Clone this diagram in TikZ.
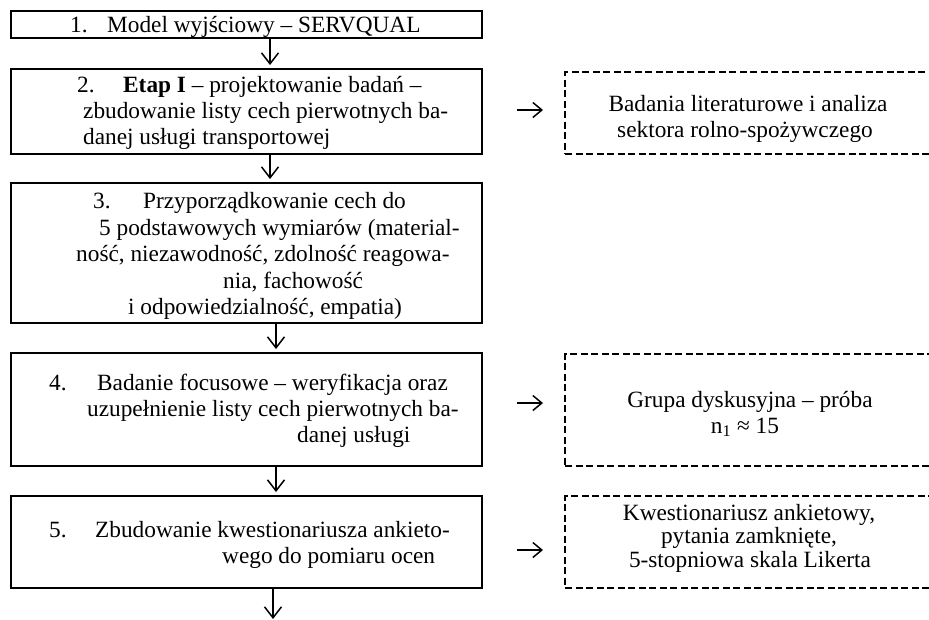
\documentclass[tikz,border=0pt]{standalone}
\usepackage{fontspec}
\setmainfont{Liberation Serif}
\usetikzlibrary{arrows.meta}
\begin{document}
\begin{tikzpicture}[x=1pt,y=-1pt,
  box/.style={draw, line width=1.9pt, rectangle, inner sep=0pt, minimum width=471pt},
  dbox/.style={draw, line width=1.9pt, dash pattern=on 7pt off 3.5pt, rectangle, inner sep=0pt, minimum width=370pt},
  txt/.style={anchor=base west, inner sep=0pt, font=\fontsize{23.3pt}{26pt}\selectfont},
  ctxt/.style={anchor=base, inner sep=0pt, font=\fontsize{23.3pt}{26pt}\selectfont},
  arr/.style={line width=1.5pt, -{Straight Barb[length=11pt,width=17pt,line width=1.5pt]}, shorten >=3pt},
  rarr/.style={line width=1.5pt, -{Straight Barb[length=9pt,width=15pt,line width=1.5pt]}}]
\useasboundingbox (0,0) rectangle (929,619);
\clip (0,0) rectangle (929,619);

% main boxes
\node[box, minimum height=27pt] (b1) at (246.5,24.5) {};
\node[box, minimum height=85pt] (b2) at (246.5,111.5) {};
\node[box, minimum height=140pt] (b3) at (246.5,253) {};
\node[box, minimum height=113pt] (b4) at (246.5,409.5) {};
\node[box, minimum height=92pt] (b5) at (246.5,542) {};

% dashed boxes
\node[dbox, minimum height=82pt] (dA) at (750,113) {};
\node[dbox, minimum height=112pt] (dB) at (750,410) {};
\node[dbox, minimum height=92pt] (dC) at (750,542) {};

% texts box 1
\node[txt] (t1) at (70,32) {\makebox[37pt][l]{1.}Model wyjściowy – SERVQUAL};
% box 2
\node[txt] (t2a) at (77,92) {\makebox[46pt][l]{2.}\textbf{Etap I} – projektowanie badań –};
\node[txt] (t2b) at (83,118) {zbudowanie listy cech pierwotnych ba-};
\node[txt] (t2c) at (83,144) {danej usługi transportowej};
% box 3
\node[txt] (t3a) at (93,208) {\makebox[50pt][l]{3.}Przyporządkowanie cech do};
\node[txt] (t3b) at (99,235) {5 podstawowych wymiarów (material-};
\node[txt] (t3c) at (76,261) {ność, niezawodność, zdolność reagowa-};
\node[txt] (t3d) at (223,288) {nia, fachowość};
\node[txt] (t3e) at (128,314) {i odpowiedzialność, empatia)};
% box 4
\node[txt] (t4a) at (49,390) {\makebox[48pt][l]{4.}Badanie focusowe – weryfikacja oraz};
\node[txt] (t4b) at (87,416) {uzupełnienie listy cech pierwotnych ba-};
\node[txt] (t4c) at (297,442) {danej usługi};
% box 5
\node[txt] (t5a) at (49,537) {\makebox[46pt][l]{5.}Zbudowanie kwestionariusza ankieto-};
\node[txt] (t5b) at (222,563) {wego do pomiaru ocen};

% dashed box texts
\node[ctxt] (tAa) at (748,111) {Badania literaturowe i analiza};
\node[ctxt] (tAb) at (745,137) {sektora rolno-spożywczego};
\node[ctxt] (tBa) at (750,407) {Grupa dyskusyjna – próba};
\node[ctxt] (tBb) at (745,433) {n\textsubscript{1} ≈ 15};
\node[ctxt] (tCa) at (749,520) {Kwestionariusz ankietowy,};
\node[ctxt] (tCb) at (749,543) {pytania zamknięte,};
\node[ctxt] (tCc) at (750,567) {5-stopniowa skala Likerta};

% down arrows
\coordinate (x1) at (270,0);
\coordinate (x2) at (270,0);
\coordinate (x3) at (276,0);
\coordinate (x4) at (276,0);
\coordinate (x5) at (273,0);
\coordinate (end) at (273,620);
\draw[arr] (b1.south -| x1) -- (b2.north -| x1);
\draw[arr] (b2.south -| x2) -- (b3.north -| x2);
\draw[arr] (b3.south -| x3) -- (b4.north -| x3);
\draw[arr] (b4.south -| x4) -- (b5.north -| x4);
\draw[arr, shorten >=1pt] (b5.south -| x5) -- (end);

% right arrows
\coordinate (r1s) at (517,110);
\coordinate (r1e) at (543,110);
\coordinate (r2s) at (517,403);
\coordinate (r2e) at (543,403);
\coordinate (r3s) at (517,550);
\coordinate (r3e) at (543,550);
\draw[rarr] (r1s) -- (r1e);
\draw[rarr] (r2s) -- (r2e);
\draw[rarr] (r3s) -- (r3e);
\end{tikzpicture}
\end{document}
